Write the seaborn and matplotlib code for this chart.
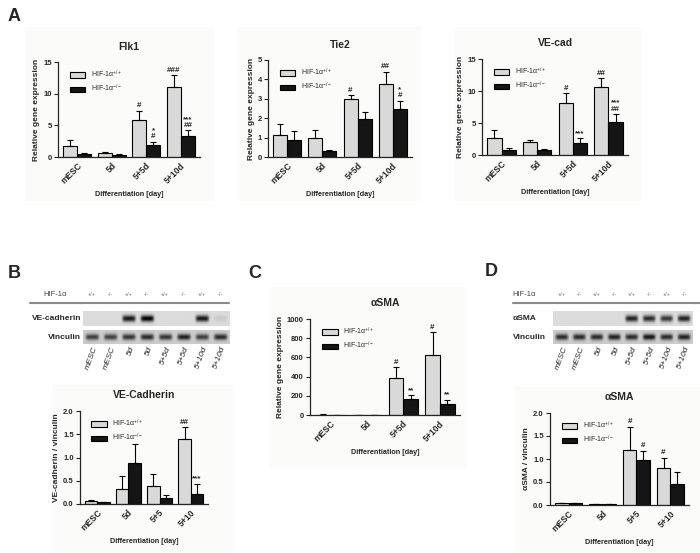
import numpy as np
import pandas as pd
import matplotlib
matplotlib.use("Agg")
import matplotlib.pyplot as plt
import seaborn as sns
from matplotlib.patches import Rectangle, Patch

sns.set_theme(style="ticks")
plt.rcParams["font.family"] = ["Liberation Sans", "DejaVu Sans"]
plt.rcParams["mathtext.default"] = "regular"

stages = ["mESC", "5d", "5+5d", "5+10d"]
stages_short = ["mESC", "5d", "5+5", "5+10"]
genotypes = ["HIF-1α$^{+/+}$", "HIF-1α$^{-/-}$"]
lanes = ["mESC", "mESC", "5d", "5d", "5+5d", "5+5d", "5+10d", "5+10d"]
lane_geno = ["+/+", "-/-"] * 4

# qPCR, relative gene expression (mean, upper SEM)
flk1_wt = [1.7, 0.7, 5.9, 11.0]
flk1_wt_err = [1.0, 0.1, 1.4, 1.9]
flk1_ko = [0.45, 0.35, 1.9, 3.3]
flk1_ko_err = [0.15, 0.1, 0.5, 0.9]
flk1_wt_sig = ["", "", "#", "###"]
flk1_ko_sig = ["", "", "*\n#", "***\n##"]

tie2_wt = [1.15, 1.0, 3.0, 3.75]
tie2_wt_err = [0.55, 0.37, 0.2, 0.65]
tie2_ko = [0.9, 0.3, 1.95, 2.5]
tie2_ko_err = [0.45, 0.08, 0.35, 0.4]
tie2_wt_sig = ["", "", "#", "##"]
tie2_ko_sig = ["", "", "", "*\n#"]

vecad_wt = [2.6, 2.1, 8.1, 10.7]
vecad_wt_err = [1.3, 0.3, 1.6, 1.3]
vecad_ko = [0.75, 0.8, 1.8, 5.1]
vecad_ko_err = [0.3, 0.1, 0.8, 1.3]
vecad_wt_sig = ["", "", "#", "##"]
vecad_ko_sig = ["", "", "***", "***\n##"]

sma_wt = [5, 3, 390, 630]
sma_wt_err = [2, 1, 110, 230]
sma_ko = [3, 3, 165, 110]
sma_ko_err = [1, 1, 40, 50]
sma_wt_sig = ["", "", "#", "#"]
sma_ko_sig = ["", "", "**", "**"]

# western blot densitometry
vecad_blot_wt = [0.07, 0.33, 0.39, 1.39]
vecad_blot_wt_err = [0.02, 0.27, 0.26, 0.26]
vecad_blot_ko = [0.04, 0.89, 0.12, 0.21]
vecad_blot_ko_err = [0.01, 0.41, 0.08, 0.22]
vecad_blot_wt_sig = ["", "", "", "##"]
vecad_blot_ko_sig = ["", "", "", "***"]

sma_blot_wt = [0.04, 0.02, 1.19, 0.81]
sma_blot_wt_err = [0.01, 0.0, 0.51, 0.22]
sma_blot_ko = [0.04, 0.02, 0.97, 0.45]
sma_blot_ko_err = [0.01, 0.0, 0.21, 0.27]
sma_blot_wt_sig = ["", "", "#", "#"]
sma_blot_ko_sig = ["", "", "#", ""]

# band intensities per lane
vecad_bands = [0.0, 0.0, 0.9, 1.0, 0.0, 0.0, 0.9, 0.08]
vinc_bands_b = [0.7, 0.7, 0.75, 0.8, 0.75, 0.85, 0.7, 0.8]
sma_bands = [0.0, 0.0, 0.0, 0.0, 0.85, 0.8, 0.75, 0.85]
vinc_bands_d = [0.8, 0.8, 0.8, 0.85, 0.8, 0.9, 0.8, 0.85]

W, H = 700, 553
fig = plt.figure(figsize=(W / 100, H / 100), dpi=100)


def px_axes(l, t, r, b):
    return fig.add_axes([l / W, 1 - b / H, (r - l) / W, (b - t) / H])


# faint panel backgrounds
for l, t, r, b in [(25, 27, 213, 200), (238, 27, 420, 200), (455, 27, 640, 200),
                   (53, 385, 233, 553), (270, 287, 465, 467), (515, 387, 700, 553)]:
    fig.patches.append(Rectangle((l / W, 1 - b / H), (r - l) / W, (b - t) / H,
                                 transform=fig.transFigure, color="#fbfbf9", zorder=-5))


def bar_panel(box, title, ylabel, labels, wt, wt_err, ko, ko_err, wt_sig, ko_sig,
              ymax, ystep, fmt):
    ax = px_axes(*box)
    df = pd.DataFrame({"stage": labels * 2,
                       "genotype": [genotypes[0]] * 4 + [genotypes[1]] * 4,
                       "value": wt + ko})
    sns.barplot(data=df, x="stage", y="value", hue="genotype",
                palette=["#d9d9d9", "#151515"], edgecolor="black", linewidth=0.8,
                errorbar=None, width=0.8, ax=ax)
    for cont, err, sig in zip(ax.containers, [wt_err, ko_err], [wt_sig, ko_sig]):
        for bar, e, s in zip(cont, err, sig):
            x = bar.get_x() + bar.get_width() / 2
            top = bar.get_height()
            ax.errorbar(x, top, yerr=[[0], [e]], fmt="none", ecolor="black",
                        elinewidth=0.8, capsize=2.5, capthick=0.8)
            if s:
                ax.annotate(s, (x, top + e), xytext=(0, 1), textcoords="offset points",
                            ha="center", va="bottom", fontsize=5.8, fontweight="bold",
                            linespacing=0.85)
    handles = [Patch(facecolor="#d9d9d9", edgecolor="black", linewidth=0.8),
               Patch(facecolor="#151515", edgecolor="black", linewidth=0.8)]
    ax.legend(handles, genotypes, loc="upper left", bbox_to_anchor=(0.04, 1.0),
              frameon=False, fontsize=5, handlelength=2.2, handleheight=0.9,
              labelspacing=0.5)
    ax.set_xlim(-0.55, 3.55)
    ax.set_ylim(0, ymax)
    ticks = np.arange(0, ymax + ystep / 2, ystep)
    ax.set_yticks(ticks)
    ax.set_yticklabels([fmt.format(t) for t in ticks], fontsize=5.5, fontweight="bold")
    ax.set_xticks(range(4))
    ax.set_xticklabels(labels, rotation=45, ha="right", rotation_mode="anchor",
                       fontsize=6.2, fontweight="bold")
    ax.tick_params(axis="y", length=3, width=0.8, pad=1.5)
    ax.tick_params(axis="x", length=0, pad=3)
    ax.set_title(title, fontsize=7.5, fontweight="bold", pad=9)
    ax.set_ylabel(ylabel, fontsize=6, fontweight="bold", labelpad=2)
    ax.set_xlabel("Differentiation [day]", fontsize=5.2, fontweight="bold")
    ax.set_facecolor("none")
    for sp in ["left", "bottom"]:
        ax.spines[sp].set_linewidth(0.9)
    sns.despine(ax=ax)
    return ax


bar_panel((58, 62, 200, 157), "Flk1", "Relative gene expression", stages,
          flk1_wt, flk1_wt_err, flk1_ko, flk1_ko_err, flk1_wt_sig, flk1_ko_sig, 15, 5, "{:.0f}")
bar_panel((268, 60, 412, 157), "Tie2", "Relative gene expression", stages,
          tie2_wt, tie2_wt_err, tie2_ko, tie2_ko_err, tie2_wt_sig, tie2_ko_sig, 5, 1, "{:.0f}")
bar_panel((482, 59, 628, 155), "VE-cad", "Relative gene expression", stages,
          vecad_wt, vecad_wt_err, vecad_ko, vecad_ko_err, vecad_wt_sig, vecad_ko_sig, 15, 5, "{:.0f}")
bar_panel((80, 411, 208, 504), "VE-Cadherin", "VE-cadherin / vinculin", stages_short,
          vecad_blot_wt, vecad_blot_wt_err, vecad_blot_ko, vecad_blot_ko_err,
          vecad_blot_wt_sig, vecad_blot_ko_sig, 2.0, 0.5, "{:.1f}")
bar_panel((310, 319, 460, 415), "αSMA", "Relative gene expression", stages,
          sma_wt, sma_wt_err, sma_ko, sma_ko_err, sma_wt_sig, sma_ko_sig, 1000, 200, "{:.0f}")
bar_panel((550, 413, 689, 505), "αSMA", "αSMA / vinculin", stages_short,
          sma_blot_wt, sma_blot_wt_err, sma_blot_ko, sma_blot_ko_err,
          sma_blot_wt_sig, sma_blot_ko_sig, 2.0, 0.5, "{:.1f}")


def blot_strip(ax, y0, y1, bands, bg):
    xs = np.linspace(-0.5, 7.5, 400)
    ys = np.linspace(0, 1, 40)
    X, Y = np.meshgrid(xs, ys)
    img = np.full_like(X, bg)
    for lane, inten in enumerate(bands):
        prof = np.exp(-((X - lane) / 0.36) ** 6) * np.exp(-((Y - 0.5) / 0.22) ** 2)
        img = img - inten * prof * bg
    ax.imshow(img, extent=(-0.5, 7.5, y1, y0), cmap="gray", vmin=0, vmax=1,
              aspect="auto", interpolation="bilinear")


def blot_panel(box, protein, bands, vinc, hif_x, hif_ha, name_x, name_ha, line_x0, line_x1):
    l, t, r, b = box
    ax = px_axes(l, t, r, b)
    blot_strip(ax, 312, 326, bands, 0.86)
    blot_strip(ax, 330, 344, vinc, 0.8)
    ax.set_xlim(-0.5, 7.5)
    ax.set_ylim(b, t)
    ax.axis("off")
    ax.text(hif_x, 295, "HIF-1α", ha=hif_ha, va="center", fontsize=5.5, color="#444")
    for i, g in enumerate(lane_geno):
        ax.text(i, 295, g, ha="center", va="center", fontsize=4, color="#666")
    ax.plot([line_x0, line_x1], [303, 303], color="#8a8a8a", lw=1.5, clip_on=False)
    ax.text(name_x, 319, protein, ha=name_ha, va="center", fontsize=6, fontweight="bold")
    ax.text(name_x, 337, "Vinculin", ha=name_ha, va="center", fontsize=6, fontweight="bold")
    for i, name in enumerate(lanes):
        ax.text(i + 0.2, 347, name, rotation=70, ha="right", va="center",
                rotation_mode="anchor", fontsize=6, style="italic")


blot_panel((83, 285, 229, 390), "VE-cadherin", vecad_bands, vinc_bands_b,
           -2.0, "center", -0.6, "right", -3.4, 7.5)
blot_panel((553, 285, 693, 390), "αSMA", sma_bands, vinc_bands_d,
           -2.8, "left", -2.8, "left", -2.8, 7.9)

for letter, x, y in [("A", 8, 8), ("B", 8, 265), ("C", 248, 265), ("D", 485, 263)]:
    fig.text(x / W, 1 - y / H, letter, fontsize=13, fontweight="bold", va="top", ha="left")

fig.savefig("out.png", dpi=100, facecolor="white")
